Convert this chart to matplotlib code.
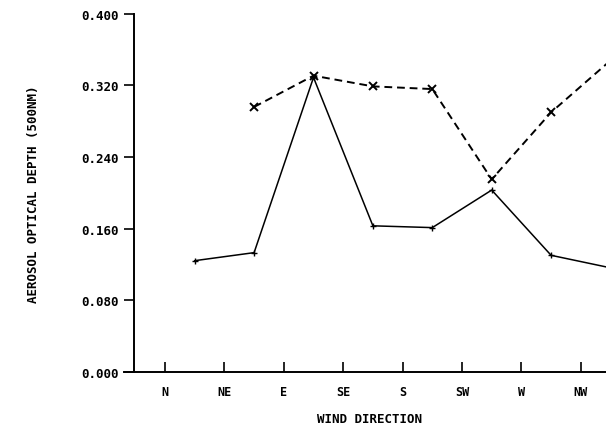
import numpy as np
import matplotlib
matplotlib.use('Agg')
import matplotlib.pyplot as plt

# Wind sectors (tick labels) and the in-between positions where data sit
directions = ['N', 'NE', 'E', 'SE', 'S', 'SW', 'W', 'NW']
sectors = ['NNE', 'ENE', 'ESE', 'SSE', 'SSW', 'WSW', 'WNW', 'NNW']

# Aerosol optical depth per sector
aod_solid = [0.124, 0.133, 0.329, 0.163, 0.161, 0.203, 0.130, 0.116]
aod_dashed = [np.nan, 0.296, 0.331, 0.319, 0.316, 0.215, 0.290, 0.348]

yticks = [0.0, 0.08, 0.16, 0.24, 0.32, 0.40]

font = 'DejaVu Sans Mono'

fig = plt.figure(figsize=(6.06, 4.27), dpi=100)
ax = fig.add_axes([0.2211, 0.1276, 0.7789, 0.8373])

x_dir = np.arange(len(directions))
x_sec = np.arange(len(sectors)) + 0.5

# Solid line with small plus markers
ax.plot(x_sec, aod_solid, color='black', lw=1.1, marker='+', ms=4, mew=1.0)
# Dashed line with x markers
ax.plot(x_sec, aod_dashed, color='black', lw=1.4, ls=(0, (4, 2.5)),
        marker='x', ms=5.5, mew=1.4)

ax.set_xlim(-0.522, 7.424)
ax.set_ylim(0, 0.4)

# Axes styling: only left and bottom lines
for s in ['top', 'right']:
    ax.spines[s].set_visible(False)
ax.spines['left'].set_linewidth(1.4)
ax.spines['bottom'].set_linewidth(1.4)
ax.spines['bottom'].set_bounds(-0.69, 7.424)

ax.set_xticks(x_dir)
ax.set_xticklabels(directions, fontfamily=font, fontweight='bold', fontsize=8.5)
ax.set_yticks(yticks)
ax.set_yticklabels(['%.3f' % v for v in yticks], fontfamily=font,
                   fontweight='bold', fontsize=9)

ax.tick_params(axis='x', direction='in', length=7.5, width=1.2, pad=10)
ax.tick_params(axis='y', direction='out', length=7.5, width=1.2, pad=3.5)

ax.set_xlabel('WIND DIRECTION', fontfamily=font, fontweight='bold',
              fontsize=9, labelpad=10)
ax.set_ylabel('AEROSOL OPTICAL DEPTH (500NM)', fontfamily=font,
              fontweight='bold', fontsize=9, labelpad=30)

plt.savefig('out.png', dpi=100)
